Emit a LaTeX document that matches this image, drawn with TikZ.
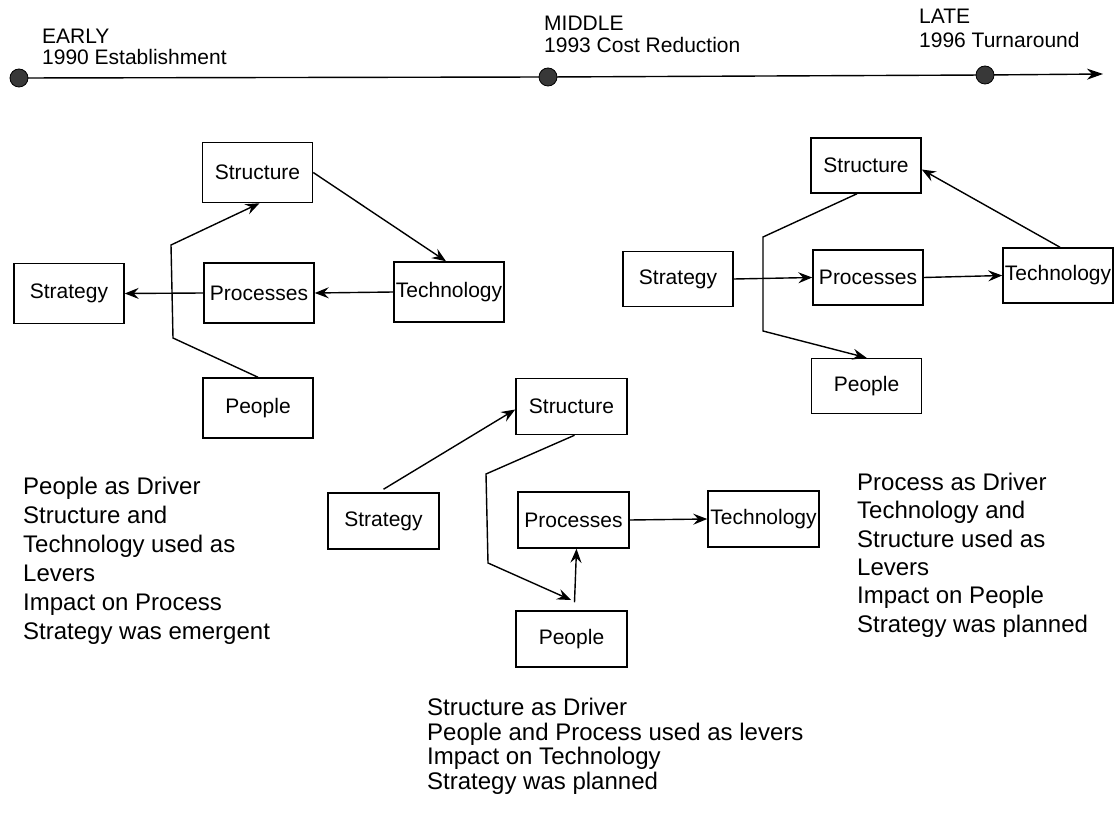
\documentclass[tikz,border=0pt]{standalone}
\usepackage{fontspec}
\setmainfont{Liberation Sans}
\usetikzlibrary{arrows.meta,backgrounds}
\begin{document}
\begin{tikzpicture}[x=1pt,y=-1pt,
  stage/.style={draw, line width=1.5pt, inner sep=0pt, font=\fontsize{21}{25}\selectfont},
  earlybox/.style={stage, minimum width=110pt, minimum height=60pt},
  latebox/.style={stage, minimum width=110pt, minimum height=55pt},
  midbox/.style={stage, minimum width=111pt, minimum height=56pt},
  link/.style={line width=1.4pt, -{Stealth[length=14pt,width=11pt,inset=5pt]}},
  era/.style={anchor=base west, inner sep=0pt, font=\fontsize{21}{25}\selectfont},
  note/.style={anchor=base west, inner sep=0pt, font=\fontsize{24}{29}\selectfont},
  milestone/.style={circle, draw=black, line width=0.8pt, fill=black!78, minimum size=18pt, inner sep=0pt}
]
\useasboundingbox (0,0) rectangle (1118,818);

% ---------- time line ----------
\node[milestone] (t1) at (19,78) {};
\node[milestone] (t2) at (548,77) {};
\node[milestone] (t3) at (985,75) {};
\coordinate (tend) at (1103,74);
\begin{scope}[on background layer]
  \fill[white] (0,0) rectangle (1118,818);
  \draw[line width=1.4pt] (t1.center) -- (t2.center) -- (t3.center);
  \draw[line width=1.4pt, -{Stealth[length=16pt,width=11pt,inset=5pt]}] (t3.center) -- (tend);
\end{scope}

\node[era] (early)  at (42,43.5) {EARLY};
\node[era] (earlyy) at (42,65)   {1990 Establishment};
\node[era] (mid)    at (544,30.5) {MIDDLE};
\node[era] (midy)   at (544,53)  {1993 Cost Reduction};
\node[era] (late)   at (919,24)  {LATE};
\node[era] (latey)  at (919,47.5) {1996 Turnaround};

% ---------- early stage ----------
\node[earlybox] (estc) at (257.5,172.5) {Structure};
\node[earlybox] (estg) at (69,293.5)    {Strategy};
\node[earlybox] (epro) at (259,293)     {Processes};
\node[earlybox] (etec) at (449,292)     {Technology};
\node[earlybox] (epeo) at (258,408)     {People};
\coordinate (eb1) at (173,338);
\coordinate (eb2) at (171,245);
\draw[link] (estc.east) -- ([xshift=-3pt]etec.north);
\draw[link] (etec.west) -- (epro.east);
\draw[link] (epro.west) -- (estg.east);
\draw[link] (epeo.north) -- (eb1) -- (eb2) -- ([xshift=2pt]estc.south);

% ---------- late stage ----------
\node[latebox] (lstc) at (866,165.5)  {Structure};
\node[latebox] (lstg) at (678,279)    {Strategy};
\node[latebox] (lpro) at (868,277.5)  {Processes};
\node[latebox] (ltec) at (1058,275.5) {Technology};
\node[latebox] (lpeo) at (866.5,386)  {People};
\coordinate (lb1) at (763,237);
\coordinate (lb2) at (763,331);
\draw[link] (lstg.east) -- (lpro.west);
\draw[link] (lpro.east) -- (ltec.west);
\draw[link] ([xshift=2pt]ltec.north) -- ([yshift=-4pt]lstc.east);
\draw[link] ([xshift=-9pt]lstc.south) -- (lb1) -- (lb2) -- (lpeo.north);

% ---------- middle stage ----------
\node[midbox] (mstc) at (571.5,406.5) {Structure};
\node[midbox] (mstg) at (383.5,521)   {Strategy};
\node[midbox] (mpro) at (573.5,520)   {Processes};
\node[midbox] (mtec) at (763.5,519)   {Technology};
\node[midbox] (mpeo) at (571.5,639)   {People};
\coordinate (mb1) at (486,474);
\coordinate (mb2) at (488,563);
\coordinate (mend) at (571,600);
\draw[link] ([yshift=3pt]mstg.north) -- ([yshift=-3pt]mstc.west);
\draw[link] ([xshift=3pt]mstc.south) -- (mb1) -- (mb2) -- (mend);
\draw[link] ([shift={(3pt,8pt)}]mpeo.north) -- ([xshift=3pt]mpro.south);
\draw[link] (mpro.east) -- (mtec.west);

% ---------- summaries ----------
\foreach \txt [count=\i from 0] in {People as Driver, Structure and, Technology used as, Levers, Impact on Process, Strategy was emergent}
  \node[note] (enote\i) at (23,{494.5+29*\i}) {\txt};
\foreach \txt [count=\i from 0] in {Process as Driver, Technology and, Structure used as, Levers, Impact on People, Strategy was planned}
  \node[note] (lnote\i) at (857,{490.5+28.3*\i}) {\txt};
\foreach \txt [count=\i from 0] in {Structure as Driver, People and Process used as levers, Impact on Technology, Strategy was planned}
  \node[note] (mnote\i) at (427,{715.5+24.5*\i}) {\txt};
\end{tikzpicture}
\end{document}
